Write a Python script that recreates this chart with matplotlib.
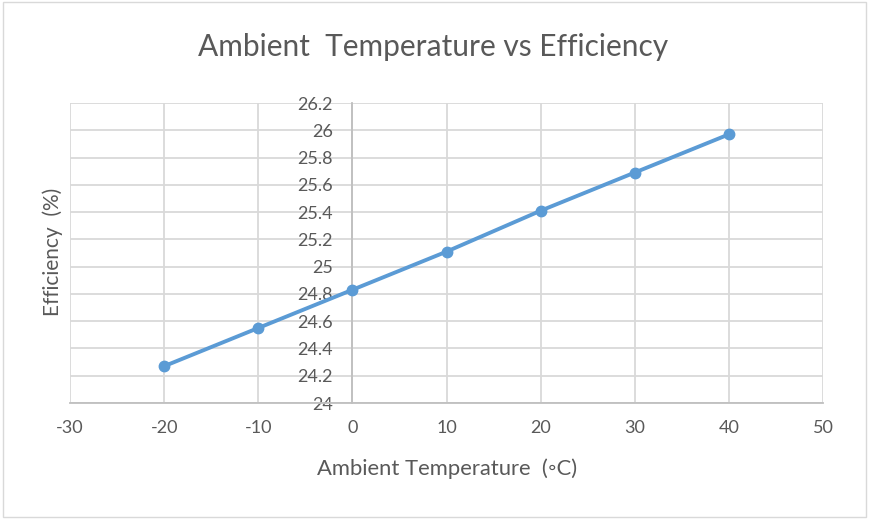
import matplotlib
matplotlib.use("Agg")
import matplotlib.pyplot as plt
from matplotlib.patches import Rectangle

plt.rcParams['font.family'] = ['Lato', 'DejaVu Sans']
plt.rcParams['axes.unicode_minus'] = False

temps = [-20, -10, 0, 10, 20, 30, 40]
efficiency = [24.27, 24.55, 24.83, 25.11, 25.41, 25.69, 25.97]
x_ticks = [-30, -20, -10, 0, 10, 20, 30, 40, 50]
y_ticks = [24, 24.2, 24.4, 24.6, 24.8, 25, 25.2, 25.4, 25.6, 25.8, 26, 26.2]
y_tick_labels = ['24', '24.2', '24.4', '24.6', '24.8', '25', '25.2', '25.4',
                 '25.6', '25.8', '26', '26.2']

TEXT = '#595959'
GRID = '#d9d9d9'
BLUE = '#5b9bd5'

W, H = 869, 519


def fit_text(txt, span, vertical=False):
    """rescale a text's font so its extent covers span pixels"""
    r = fig.canvas.get_renderer()
    for _ in range(3):
        bb = txt.get_window_extent(renderer=r)
        cur = bb.height if vertical else bb.width
        txt.set_fontsize(txt.get_fontsize() * span / cur)


fig = plt.figure(figsize=(W / 100, H / 100), dpi=100)
fig.patches.append(Rectangle((0.003, 0.003), 0.994, 0.994, transform=fig.transFigure,
                             fill=False, edgecolor='#d9d9d9', linewidth=1))
ax = fig.add_axes([70 / W, 1 - 403 / H, (823 - 70) / W, (403 - 103) / H])

ax.plot(temps, efficiency, color=BLUE, linewidth=2.8, marker='o', markersize=7.5, zorder=3)

ax.set_xlim(-30, 50)
ax.set_ylim(24, 26.2)
ax.set_xticks(x_ticks)
ax.set_yticks(y_ticks)
ax.set_yticklabels(y_tick_labels)
ax.grid(True, color=GRID, linewidth=1.3)
ax.set_axisbelow(True)

for s in ['top', 'right']:
    ax.spines[s].set_visible(False)
ax.spines['left'].set_position(('data', 0))
ax.spines['left'].set_color('#bfbfbf')
ax.spines['left'].set_linewidth(1.3)
ax.spines['bottom'].set_color('#bfbfbf')
ax.spines['bottom'].set_linewidth(1.3)
ax.tick_params(axis='x', length=0, labelsize=13, colors=TEXT, pad=12.5)
ax.tick_params(axis='y', length=0, labelsize=13, colors=TEXT, pad=14)

xl = fig.text(447 / W, 1 - 469 / H, 'Ambient Temperature  (◦C)', fontsize=14.5,
              color=TEXT, ha='center', va='center')
yl = fig.text(53 / W, 1 - 252 / H, 'Efficiency  (%)', rotation=90, fontsize=13.5,
              color=TEXT, ha='center', va='center')
tl = fig.text(433 / W, 1 - 47 / H, 'Ambient  Temperature vs Efficiency', fontsize=21.5,
              color=TEXT, ha='center', va='center')
fit_text(xl, 261)
fit_text(yl, 128, vertical=True)
fit_text(tl, 470)

fig.savefig('out.png', dpi=100)
